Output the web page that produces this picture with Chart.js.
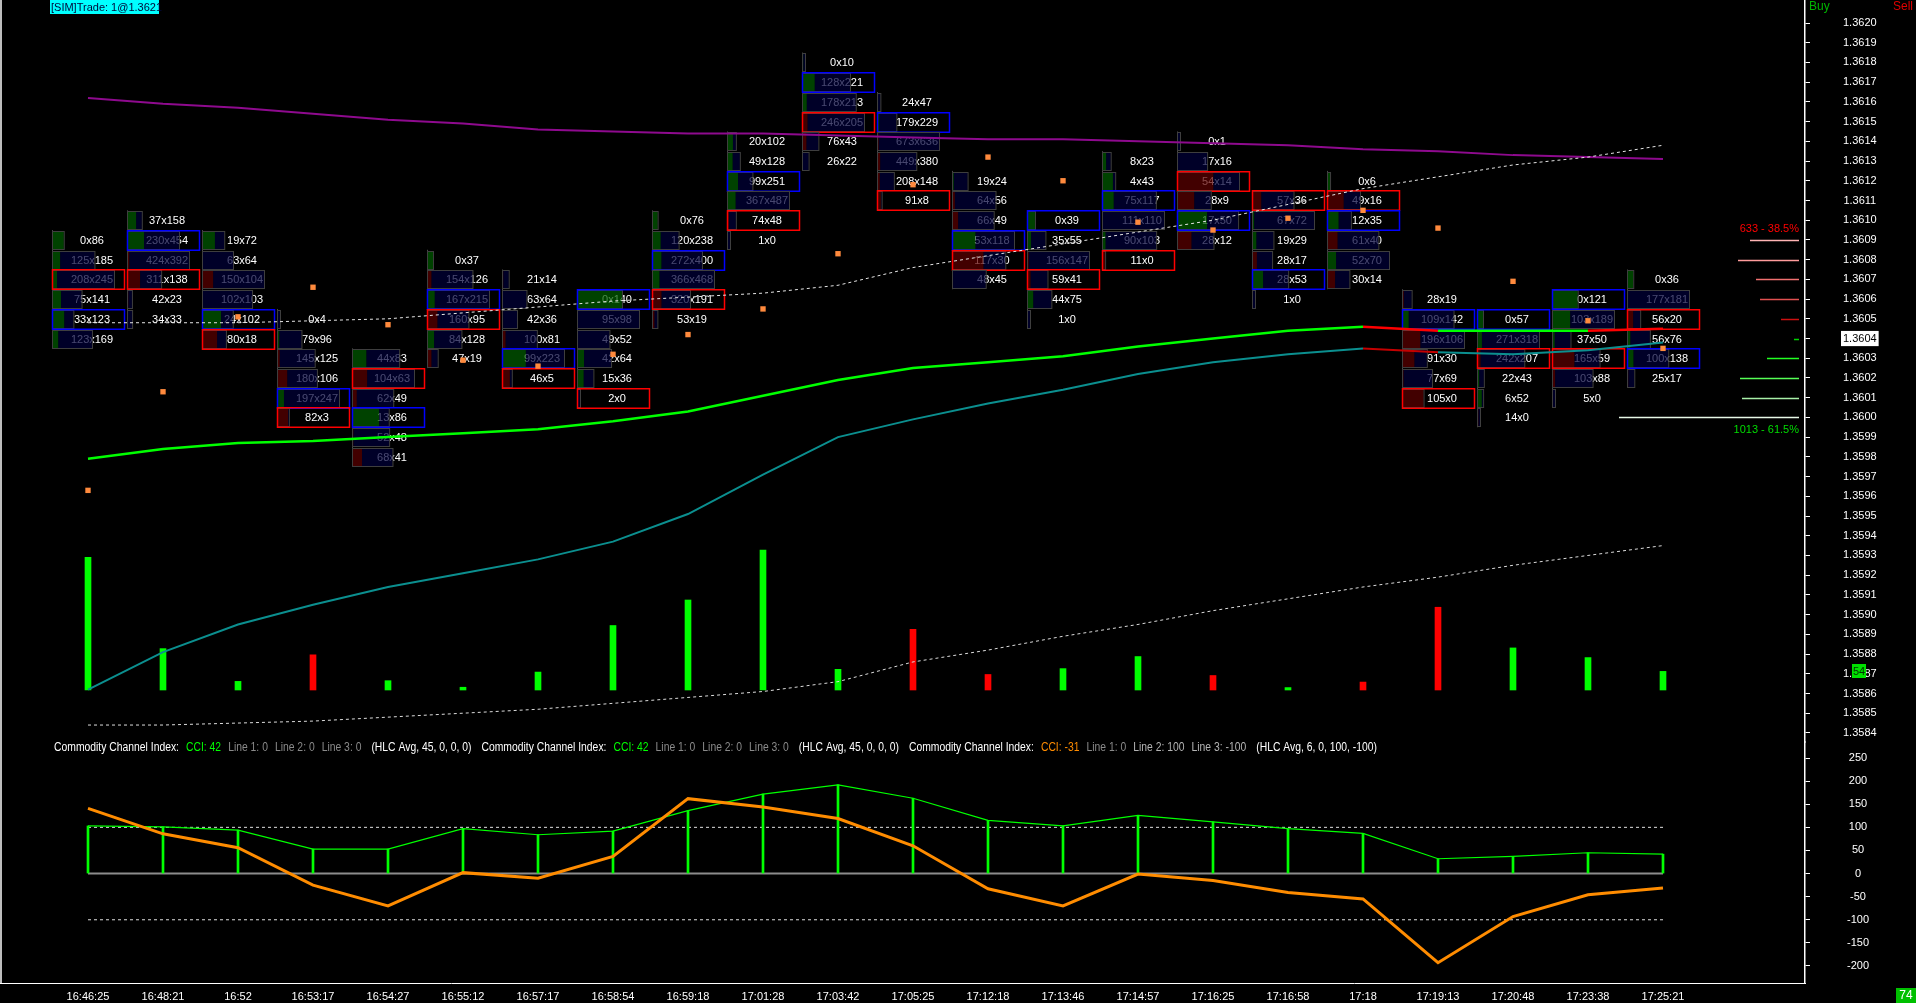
<!DOCTYPE html>
<html>
<head>
<meta charset="utf-8">
<title>Footprint 1.36</title>
<script src="https://cdn.jsdelivr.net/npm/chart.js@4.4.0/dist/chart.umd.min.js"></script>
<style>
html, body { margin: 0; padding: 0; background: #000; overflow: hidden; }
#chart { display: block; }
</style>
</head>
<body>
<canvas id="chart" width="1916" height="1003"></canvas>
<script>
// bar times
var times = ['16:46:25', '16:48:21', '16:52', '16:53:17', '16:54:27', '16:55:12', '16:57:17', '16:58:54',
  '16:59:18', '17:01:28', '17:03:42', '17:05:25', '17:12:18', '17:13:46', '17:14:57', '17:16:25',
  '17:16:58', '17:18', '17:19:13', '17:20:48', '17:23:38', '17:25:21'];

// footprint : top price of each bar, then 6 levels going down (bid x ask)
var topLevel = [1.3609, 1.3610, 1.3609, 1.3605, 1.3603, 1.3608, 1.3607, 1.3606, 1.3610, 1.3614, 1.3618,
  1.3616, 1.3612, 1.3610, 1.3613, 1.3614, 1.3611, 1.3612, 1.3606, 1.3605, 1.3606, 1.3607];
var bidVol = [
  [0, 125, 208, 75, 33, 123], [37, 230, 424, 311, 42, 34], [19, 63, 150, 102, 24, 80], [0, 79, 145, 180, 197, 82],
  [44, 104, 62, 13, 52, 68], [0, 154, 167, 160, 84, 47], [21, 63, 42, 100, 99, 46], [0, 95, 49, 42, 15, 2],
  [0, 120, 272, 366, 320, 53], [20, 49, 99, 367, 74, 1], [0, 128, 178, 246, 76, 26], [24, 179, 673, 449, 208, 91],
  [19, 64, 66, 53, 117, 48], [0, 35, 156, 59, 44, 1], [8, 4, 75, 111, 90, 11], [0, 17, 54, 28, 17, 28],
  [57, 67, 19, 28, 28, 1], [0, 49, 12, 61, 52, 30], [28, 109, 196, 91, 77, 105], [0, 271, 242, 22, 6, 14],
  [0, 103, 37, 165, 103, 5], [0, 177, 56, 56, 100, 25]];
var askVol = [
  [86, 185, 245, 141, 123, 169], [158, 454, 392, 138, 23, 33], [72, 64, 104, 103, 102, 18], [4, 96, 125, 106, 247, 3],
  [83, 63, 49, 86, 48, 41], [37, 126, 215, 95, 128, 19], [14, 64, 36, 81, 223, 5], [140, 98, 52, 64, 36, 0],
  [76, 238, 400, 468, 191, 19], [102, 128, 251, 487, 48, 0], [10, 221, 213, 205, 43, 22], [47, 229, 636, 380, 148, 8],
  [24, 56, 49, 118, 30, 45], [39, 55, 147, 41, 75, 0], [23, 43, 117, 110, 103, 0], [1, 16, 14, 9, 50, 12],
  [36, 72, 29, 17, 53, 0], [6, 16, 35, 40, 70, 14], [19, 142, 106, 30, 69, 0], [57, 318, 207, 43, 52, 0],
  [121, 189, 50, 59, 88, 0], [36, 181, 20, 76, 138, 17]];
// imbalance marks per level : S = sell, B = buy
var marks = ['--S-B-', '-B-S--', '----BS', '----BS', '-S-B--', '--BS--', '----BS', 'B----S', '--B-S-', '--B-S-',
  '-B-S--', '-B---S', '---BS-', 'B--S--', '--B--S', '--S-B-', 'S---B-', '-SB---', '-B---S', 'B-S---', 'B--S--', '--S-B-'];

// bar delta (ask - bid)
var deltas = [385, 120, 25, -102, 27, 8, 52, 187, 261, 406, 60, -176, -45, 62, 97, -42, 7, -23, -240, 122, 94, 54];

var fastMa = [1.35979, 1.35984, 1.35987, 1.35988, 1.35990, 1.35992, 1.35994, 1.35998, 1.36003, 1.36011, 1.36019,
  1.36025, 1.36028, 1.36031, 1.36036, 1.36040, 1.36044, 1.36046, 1.36044, 1.36044, 1.36044, 1.36045];
var slowMa = [1.35862, 1.35881, 1.35895, 1.35905, 1.35914, 1.35921, 1.35928, 1.35937, 1.35951, 1.35971, 1.35990,
  1.35999, 1.36007, 1.36014, 1.36022, 1.36028, 1.36032, 1.36035, 1.36033, 1.36032, 1.36034, 1.36038];
var longMa = [1.36162, 1.36159, 1.36157, 1.36154, 1.36151, 1.36149, 1.36146, 1.36145, 1.36144, 1.36144, 1.36143,
  1.36142, 1.36141, 1.36141, 1.36140, 1.36139, 1.36138, 1.36136, 1.36135, 1.36133, 1.36132, 1.36131];
var upperTrend = [1.36048, 1.36048, 1.36048, 1.36049, 1.36050, 1.36053, 1.36056, 1.36059, 1.36061, 1.36063, 1.36067,
  1.36076, 1.36082, 1.36088, 1.36094, 1.36100, 1.36108, 1.36116, 1.36122, 1.36128, 1.36132, 1.36138];
var lowerTrend = [1.35844, 1.35844, 1.35845, 1.35846, 1.35848, 1.35850, 1.35852, 1.35855, 1.35858, 1.35861, 1.35866,
  1.35876, 1.35882, 1.35889, 1.35895, 1.35902, 1.35908, 1.35914, 1.35919, 1.35925, 1.35930, 1.35935];
var markers = [1.35963, 1.36013, 1.36051, 1.36066, 1.36047, 1.36029, 1.36026, 1.36032, 1.36042, 1.36055, 1.36083,
  1.36118, 1.36132, 1.36120, 1.36099, 1.36095, 1.36101, 1.36105, 1.36096, 1.36069, 1.36049, 1.36035];
var fastDown = [17, 20];   // segments drawn red
var slowDown = [17];

// CCI
var cci45 = [103, 101, 94, 53, 53, 97, 84, 92, 136, 172, 192, 163, 115, 103, 126, 112, 97, 87, 32, 37, 45, 42];
var cci6 = [141, 86, 56, -25, -70, 2, -10, 37, 162, 144, 119, 60, -33, -70, -1, -15, -41, -55, -193, -93, -46, -31];
var cciLines = [100, 0, -100];
var cciTicks = [-200, -150, -100, -50, 0, 50, 100, 150, 200, 250];

// price axis labels 1.3584 .. 1.3620
var priceTicks = [];
for (var t = 13584; t <= 13620; t++) priceTicks.push(t / 10000);
var lastPrice = 1.3604;

// buy / sell profile on the right
var profileLevels = [1.3609, 1.3608, 1.3607, 1.3606, 1.3605, 1.3604, 1.3603, 1.3602, 1.3601, 1.3600];
var profileVol = [49, 61, 43, 39, 18, 5, 32, 59, 57, 180];
var sellTotal = 633, buyTotal = 1013;
var timerText = '74';

var NARROW = (function() {
  var c = document.createElement('canvas').getContext('2d');
  c.font = '12px "Liberation Sans Narrow", monospace';
  var a = c.measureText('Commodity Channel').width;
  c.font = '12px monospace';
  return a !== c.measureText('Commodity Channel').width;
})();
var HEAD_FONT = NARROW ? '12px "Liberation Sans Narrow"' : '12px "Liberation Sans"';
var headScale = (function() {
  var c = document.createElement('canvas').getContext('2d');
  c.font = HEAD_FONT;
  return 125 / c.measureText('Commodity Channel Index:').width;
})();

function xy(arr) {
  return arr.map(function(v, i) { return {x: i, y: v}; });
}

// condensed text, returns drawn width
function narrowText(ctx, txt, x, y, color) {
  ctx.save();
  ctx.fillStyle = color;
  ctx.textBaseline = 'middle';
  ctx.textAlign = 'left';
  ctx.font = HEAD_FONT;
  ctx.translate(x, y);
  ctx.scale(headScale, 1);
  ctx.fillText(txt, 0, 0);
  var w = ctx.measureText(txt).width * headScale;
  ctx.restore();
  return w;
}

var footprint = {
  id: 'footprint',
  beforeDatasetsDraw: function(chart) {
    var ctx = chart.ctx, xs = chart.scales.x, ys = chart.scales.y;
    var rowH = Math.abs(ys.getPixelForValue(1.3600) - ys.getPixelForValue(1.3601));
    ctx.save();
    ctx.font = '11px "Liberation Sans", Arial, sans-serif';
    ctx.textAlign = 'center';
    ctx.textBaseline = 'middle';
    for (var i = 0; i < times.length; i++) {
      var cx = Math.round(xs.getPixelForValue(i));
      var left = cx - 36;
      var maxTot = 0;
      for (var k = 0; k < 6; k++) maxTot = Math.max(maxTot, bidVol[i][k] + askVol[i][k]);
      var yTop = ys.getPixelForValue(topLevel[i]) - rowH / 2;
      var yBot = ys.getPixelForValue(topLevel[i] - 0.0005) + rowH / 2;
      ctx.strokeStyle = '#4a4a4a';
      ctx.lineWidth = 1;
      ctx.beginPath();
      ctx.moveTo(left + 0.5, yTop);
      ctx.lineTo(left + 0.5, yBot);
      ctx.stroke();
      for (k = 0; k < 6; k++) {
        var b = bidVol[i][k], a = askVol[i][k], tot = a + b, d = a - b;
        var yc = Math.round(ys.getPixelForValue(topLevel[i] - k * 0.0001));
        var top = yc - 9, h = 19;
        ctx.fillStyle = '#fff';
        ctx.fillText(b + 'x' + a, cx + 4, yc + 1);
        var vw = Math.max(3, 62 * tot / maxTot), dw = Math.max(1, 62 * Math.abs(d) / maxTot);
        ctx.fillStyle = d >= 0 ? 'rgba(0,92,0,0.72)' : 'rgba(92,0,0,0.72)';
        ctx.fillRect(left, top, dw, h);
        if (vw > dw) {
          ctx.fillStyle = 'rgba(0,0,56,0.72)';
          ctx.fillRect(left + dw, top, vw - dw, h);
        }
        ctx.strokeStyle = '#3e3e3e';
        ctx.lineWidth = 1;
        ctx.strokeRect(left + 0.5, top + 0.5, vw, h - 1);
        var m = marks[i].charAt(k);
        if (m !== '-') {
          ctx.strokeStyle = m === 'S' ? '#ff0000' : '#0000ff';
          ctx.lineWidth = 1.5;
          ctx.strokeRect(left + 0.5, top - 0.25, 72, h + 0.5);
        }
      }
    }
    ctx.restore();
  }
};

var overlay = {
  id: 'overlay',
  afterDraw: function(chart) {
    var ctx = chart.ctx, ys = chart.scales.y, yd = chart.scales.yd, area = chart.chartArea;
    ctx.save();
    // left frame
    ctx.fillStyle = '#bdbdbd';
    ctx.fillRect(0, 0, 2, area.bottom);

    // sim trade label
    ctx.font = '11px "Liberation Sans", Arial, sans-serif';
    ctx.textBaseline = 'middle';
    ctx.fillStyle = '#00ffff';
    ctx.fillRect(50, 0, 109, 14);
    ctx.fillStyle = '#00083a';
    ctx.textAlign = 'left';
    ctx.fillText('[SIM]Trade: 1@1.3621', 51, 7.5);

    // buy / sell header
    ctx.font = '12px "Liberation Sans", Arial, sans-serif';
    ctx.fillStyle = '#00b400';
    ctx.fillText('Buy', area.right + 4, 7);
    ctx.fillStyle = '#e00000';
    ctx.textAlign = 'right';
    ctx.fillText('Sell', 1913, 7);

    // profile
    var profColors = ['#ffb4b4', '#ff9c9c', '#f07070', '#e05050', '#cc1010',
      '#00d000', '#22ff22', '#55ff55', '#a8f0a8', '#e6f8e6'];
    var xr = area.right - 6;
    ctx.lineWidth = 1.5;
    for (var i = 0; i < profileLevels.length; i++) {
      var py = Math.round(ys.getPixelForValue(profileLevels[i])) + 0.5;
      ctx.strokeStyle = profColors[i];
      ctx.beginPath();
      ctx.moveTo(xr - profileVol[i], py);
      ctx.lineTo(xr, py);
      ctx.stroke();
    }
    var tot = sellTotal + buyTotal;
    ctx.font = '11px "Liberation Sans", Arial, sans-serif';
    ctx.textAlign = 'right';
    ctx.fillStyle = '#ff0000';
    ctx.fillText(sellTotal + ' - ' + (100 * sellTotal / tot).toFixed(1) + '%', xr, ys.getPixelForValue(profileLevels[0]) - 11);
    ctx.fillStyle = '#00dd00';
    ctx.fillText(buyTotal + ' - ' + (100 * buyTotal / tot).toFixed(1) + '%', xr, ys.getPixelForValue(profileLevels[9]) + 13);

    // last delta tag on axis
    var last = deltas[deltas.length - 1];
    var ty = Math.round(yd.getPixelForValue(Math.abs(last)));
    ctx.fillStyle = '#00e000';
    ctx.fillRect(1852, ty - 7, 14, 14);
    ctx.fillStyle = '#003000';
    ctx.textAlign = 'center';
    ctx.fillText(String(last), 1859, ty + 0.5);

    // bar timer
    ctx.fillStyle = '#00c000';
    ctx.fillRect(1896, 988, 20, 15);
    ctx.fillStyle = '#ffffff';
    ctx.font = '12px "Liberation Sans", Arial, sans-serif';
    ctx.fillText(timerText, 1906, 996);

    // CCI header
    var yc = chart.scales.ycci.top + 6;
    var n = cci45.length - 1;
    var parts = [
      ['Commodity Channel Index:', '#ffffff', 7], ['CCI: ' + cci45[n], '#00ff00', 7], ['Line 1: 0', '#8a8a8a', 7],
      ['Line 2: 0', '#8a8a8a', 7], ['Line 3: 0', '#8a8a8a', 10], ['(HLC Avg, 45, 0, 0, 0)', '#ffffff', 10],
      ['Commodity Channel Index:', '#ffffff', 7], ['CCI: ' + cci45[n], '#00ff00', 7], ['Line 1: 0', '#8a8a8a', 7],
      ['Line 2: 0', '#8a8a8a', 7], ['Line 3: 0', '#8a8a8a', 10], ['(HLC Avg, 45, 0, 0, 0)', '#ffffff', 10],
      ['Commodity Channel Index:', '#ffffff', 7], ['CCI: ' + cci6[n], '#ff8c00', 7], ['Line 1: 0', '#8a8a8a', 7],
      ['Line 2: 100', '#b4b4b4', 7], ['Line 3: -100', '#b4b4b4', 10], ['(HLC Avg, 6, 0, 100, -100)', '#ffffff', 0]];
    var hx = 54;
    for (i = 0; i < parts.length; i++) {
      hx += narrowText(ctx, parts[i][0], hx, yc, parts[i][1]) + parts[i][2];
    }
    ctx.restore();
  }
};

var xFont = NARROW ? {family: 'Liberation Sans Narrow', size: 12} : {family: 'Liberation Sans', size: 11};

function levelSet(v) {
  return times.map(function(t, i) { return {x: i, y: v}; });
}

var datasets = [
  {
    type: 'line', label: 'markers', data: xy(markers), yAxisID: 'y', showLine: false,
    pointStyle: 'rect', pointRadius: 3.8, pointBackgroundColor: '#ff8a3d', pointBorderWidth: 0, order: 0
  },
  {
    type: 'line', label: 'upper trend', data: xy(upperTrend), yAxisID: 'y', borderColor: '#e6e6e6',
    borderWidth: 1, borderDash: [3, 3], pointRadius: 0, order: 1
  },
  {
    type: 'line', label: 'fast ma', data: xy(fastMa), yAxisID: 'y', borderWidth: 2.5, pointRadius: 0, order: 2,
    borderColor: '#00ff00',
    segment: { borderColor: function(c) { return fastDown.indexOf(c.p0DataIndex) >= 0 ? '#ff0000' : '#00ff00'; } }
  },
  {
    type: 'line', label: 'slow ma', data: xy(slowMa), yAxisID: 'y', borderWidth: 2, pointRadius: 0, order: 3,
    borderColor: '#0b8f8f',
    segment: { borderColor: function(c) { return slowDown.indexOf(c.p0DataIndex) >= 0 ? '#c40000' : '#0b8f8f'; } }
  },
  {
    type: 'line', label: 'long ma', data: xy(longMa), yAxisID: 'y', borderColor: '#8e0a8e',
    borderWidth: 2, pointRadius: 0, order: 3
  },
  {
    type: 'line', label: 'lower trend', data: xy(lowerTrend), yAxisID: 'y', borderColor: '#dcdcdc',
    borderWidth: 1, borderDash: [3, 3], pointRadius: 0, order: 4
  },
  {
    type: 'bar', label: 'delta', data: deltas.map(function(v, i) { return {x: i, y: Math.abs(v)}; }),
    yAxisID: 'yd', barThickness: 6, grouped: false, order: 5,
    backgroundColor: deltas.map(function(v) { return v >= 0 ? '#00ff00' : '#ff0000'; })
  },
  {
    type: 'line', label: 'CCI 6', data: xy(cci6), yAxisID: 'ycci', borderColor: '#ff8c00',
    borderWidth: 3, pointRadius: 0, order: 0
  },
  {
    type: 'line', label: 'CCI 45', data: xy(cci45), yAxisID: 'ycci', borderColor: '#00ff00',
    borderWidth: 1.2, pointRadius: 0, order: 1
  },
  {
    type: 'bar', label: 'CCI 45 hist', data: xy(cci45), yAxisID: 'ycci', backgroundColor: '#00ff00',
    barThickness: 2, grouped: false, order: 2
  }
];
cciLines.forEach(function(v) {
  datasets.push({
    type: 'line', label: 'level ' + v, data: levelSet(v), yAxisID: 'ycci',
    borderColor: v === 0 ? '#8c8c8c' : '#e0e0e0', borderWidth: v === 0 ? 2 : 1,
    borderDash: v === 0 ? [] : [3, 3], pointRadius: 0, order: 6
  });
});

function noPad(scale) {
  scale.paddingTop = 0;
  scale.paddingBottom = 0;
  scale.paddingLeft = 0;
  scale.paddingRight = 0;
}

var chart = new Chart(document.getElementById('chart').getContext('2d'), {
  data: { datasets: datasets },
  plugins: [footprint, overlay],
  options: {
    responsive: false,
    animation: false,
    devicePixelRatio: 1,
    events: [],
    layout: { padding: 0, autoPadding: false },
    plugins: { legend: { display: false }, tooltip: { enabled: false } },
    scales: {
      x: {
        type: 'linear', position: 'bottom', offset: false, min: -88 / 75, max: (1805 - 88) / 75,
        grid: { display: false, offset: false },
        border: { display: true, color: '#ffffff', width: 1 },
        afterBuildTicks: function(s) { s.ticks = times.map(function(t, i) { return {value: i}; }); },
        afterFit: function(s) { s.height = 20; noPad(s); },
        ticks: {
          autoSkip: false, maxRotation: 0, padding: -1, color: '#ffffff', font: xFont,
          callback: function(v) { return times[v]; }
        }
      },
      y: {
        type: 'linear', position: 'right', stack: 'panes', stackWeight: 742,
        min: 1.3620 - 719 / 197200, max: 1.3620 + 23 / 197200,
        grid: { drawOnChartArea: false, color: '#ffffff', tickLength: 5, tickWidth: 1 },
        border: { display: true, color: '#ffffff', width: 1.5 },
        afterBuildTicks: function(s) { s.ticks = priceTicks.map(function(v) { return {value: v}; }); },
        afterFit: function(s) { s.width = 111; noPad(s); },
        ticks: {
          autoSkip: false, crossAlign: 'center', padding: 33, font: { family: 'Liberation Sans', size: 11 },
          color: function(c) { return c.tick && Math.abs(c.tick.value - lastPrice) < 1e-7 ? '#000000' : '#ffffff'; },
          showLabelBackdrop: function(c) { return !!(c.tick && Math.abs(c.tick.value - lastPrice) < 1e-7); },
          backdropColor: '#ffffff', backdropPadding: { x: 2, y: 1 },
          callback: function(v) { return v.toFixed(4); }
        }
      },
      ycci: {
        type: 'linear', position: 'right', stack: 'panes', stackWeight: 241,
        min: -200 - 17 / 0.4622, max: 250 + 16 / 0.4622,
        grid: { drawOnChartArea: false, color: '#ffffff', tickLength: 5, tickWidth: 1 },
        border: { display: true, color: '#ffffff', width: 1.5 },
        afterBuildTicks: function(s) { s.ticks = cciTicks.map(function(v) { return {value: v}; }); },
        afterFit: function(s) { s.width = 111; noPad(s); },
        ticks: {
          autoSkip: false, crossAlign: 'center', padding: 37, color: '#ffffff', font: { family: 'Liberation Sans', size: 11 },
          callback: function(v) { return String(v); }
        }
      },
      yd: {
        type: 'linear', display: false, min: -(983 - 690) * 2.9, max: 690 * 2.9
      }
    }
  }
});
</script>
</body>
</html>
